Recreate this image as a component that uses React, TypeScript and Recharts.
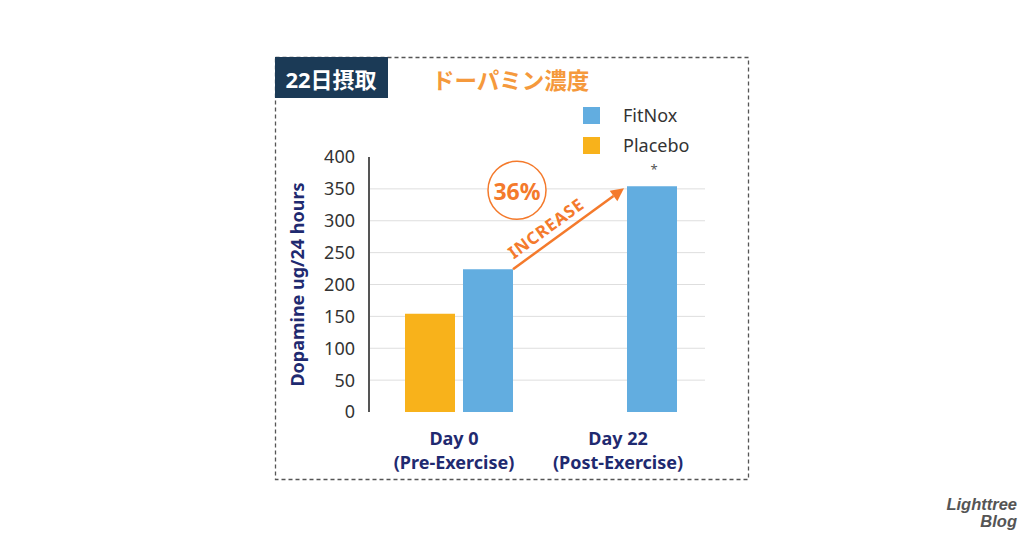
import React from 'react';
import { BarChart, Bar, XAxis, YAxis, CartesianGrid, LabelList, Label } from 'recharts';

const categories = ['Day 0', 'Day 22'];
const subLabels = ['(Pre-Exercise)', '(Post-Exercise)'];
const fitnoxValues = [224, 354];
const placeboValues: (number | null)[] = [154, null];
const yTicks = [0, 50, 100, 150, 200, 250, 300, 350, 400];
const gridValues = [50, 100, 150, 200, 250, 300, 350];
const increaseLabel = '36%';
const increaseText = 'INCREASE';
const seriesNames = { fitnox: 'FitNox', placebo: 'Placebo' };

const data = categories.map((c, i) => ({
  name: c,
  sub: subLabels[i],
  fitnox: fitnoxValues[i],
  placebo: placeboValues[i],
}));

const BLUE = '#62ade0';
const YELLOW = '#f8b21b';
const ORANGE = '#f47a2c';
const NAVY = '#1f2a70';
const FONT = '"Noto Sans", "Noto Sans CJK JP", sans-serif';

const store: { x?: number; y?: number } = {};

function FitnoxAnnot(props: any) {
  const { x, y, width, index } = props;
  if (index === 0) {
    store.x = x + width;
    store.y = y;
    return null;
  }
  if (store.x === undefined || store.y === undefined) return null;
  const sx = store.x;
  const sy = store.y;
  const ex = x - 3;
  const ey = y + 2;
  const dx = ex - sx;
  const dy = ey - sy;
  const len = Math.sqrt(dx * dx + dy * dy);
  const ux = dx / len;
  const uy = dy / len;
  const angle = (Math.atan2(dy, dx) * 180) / Math.PI;
  const head = 13;
  const hx = ex - ux * head;
  const hy = ey - uy * head;
  const nx = -uy;
  const ny = ux;
  const tx = sx + dx * 0.37 + uy * 14;
  const ty = sy + dy * 0.37 - ux * 14;
  const cx = sx + 4;
  const cy = y + 4;
  return (
    <g>
      <line x1={sx} y1={sy} x2={hx} y2={hy} stroke={ORANGE} strokeWidth={2.5} />
      <polygon
        points={`${ex},${ey} ${hx + nx * 6.5},${hy + ny * 6.5} ${hx - nx * 6.5},${hy - ny * 6.5}`}
        fill={ORANGE}
      />
      <text
        x={tx}
        y={ty}
        transform={`rotate(${angle} ${tx} ${ty})`}
        textAnchor="middle"
        dominantBaseline="central"
        fill={ORANGE}
        fontSize={17}
        fontWeight={700}
        fontFamily={FONT}
        letterSpacing={0.8}
      >
        {increaseText}
      </text>
      <circle cx={cx} cy={cy} r={29} fill="#fff" stroke={ORANGE} strokeWidth={1.5} />
      <text
        x={cx}
        y={cy + 1}
        textAnchor="middle"
        dominantBaseline="central"
        fill={ORANGE}
        fontSize={23}
        fontWeight={700}
        fontFamily={FONT}
      >
        {increaseLabel}
      </text>
      <text x={x + width / 2 + 2} y={y - 12} textAnchor="middle" fill="#555" fontSize={13} fontFamily={FONT}>
        *
      </text>
    </g>
  );
}

function XTick(props: any) {
  const { x, y, payload, index } = props;
  return (
    <g>
      <text x={x - 5} y={y + 25} textAnchor="middle" fill={NAVY} fontSize={18} fontWeight={700} fontFamily={FONT}>
        {payload.value}
      </text>
      <text x={x - 5} y={y + 49} textAnchor="middle" fill={NAVY} fontSize={18} fontWeight={700} fontFamily={FONT}>
        {subLabels[index] ?? ''}
      </text>
    </g>
  );
}

function YLabel(props: any) {
  const { viewBox } = props;
  const cx = viewBox.x - 12;
  const cy = viewBox.y + viewBox.height / 2;
  return (
    <text
      x={cx}
      y={cy}
      transform={`rotate(-90 ${cx} ${cy})`}
      textAnchor="middle"
      dominantBaseline="central"
      fill={NAVY}
      fontSize={18}
      fontWeight={700}
      fontFamily={FONT}
    >
      Dopamine ug/24 hours
    </text>
  );
}

function LegendBox() {
  const items = [
    { name: seriesNames.fitnox, color: BLUE },
    { name: seriesNames.placebo, color: YELLOW },
  ];
  return (
    <div style={{ position: 'absolute', left: 583, top: 100, fontFamily: FONT }}>
      {items.map((it) => (
        <div key={it.name} style={{ display: 'flex', alignItems: 'center', height: 30 }}>
          <div style={{ width: 17, height: 17, background: it.color }} />
          <span style={{ marginLeft: 23, fontSize: 18, color: '#333' }}>{it.name}</span>
        </div>
      ))}
    </div>
  );
}

export default function App() {
  return (
    <div style={{ position: 'absolute', left: 0, top: 0, width: 1024, height: 538, background: '#fff', overflow: 'hidden' }}>
      <svg width={1024} height={538} style={{ position: 'absolute', left: 0, top: 0 }}>
        <rect x={275.5} y={57.5} width={473} height={422} fill="none" stroke="#555" strokeWidth={1.3} strokeDasharray="4 3" />
        <rect x={275} y={57} width={113} height={41} fill="#1b3a56" />
        <text x={331} y={79} textAnchor="middle" dominantBaseline="central" fill="#fff" fontSize={22} fontWeight={700} fontFamily={FONT}>
          22日摂取
        </text>
        <text x={432} y={80} dominantBaseline="central" fill="#f5993c" fontSize={22.5} fontWeight={700} fontFamily={FONT}>
          ドーパミン濃度
        </text>
        <text x={1017} y={510} textAnchor="end" fill="#555" fontSize={16.5} fontWeight={700} fontStyle="italic" fontFamily='"Liberation Sans", Arial, sans-serif'>
          Lighttree
        </text>
        <text x={1017} y={527} textAnchor="end" fill="#555" fontSize={16.5} fontWeight={700} fontStyle="italic" fontFamily='"Liberation Sans", Arial, sans-serif'>
          Blog
        </text>
      </svg>
      <div style={{ position: 'absolute', left: 0, top: 0 }}>
        <BarChart
          width={1024}
          height={538}
          data={data}
          margin={{ top: 157, right: 319, bottom: 66, left: 309 }}
          barSize={50}
          barGap={8}
        >
          <CartesianGrid horizontal vertical={false} stroke="#dedede" horizontalValues={gridValues} />
          <XAxis
            dataKey="name"
            axisLine={false}
            tickLine={false}
            height={60}
            padding={{ left: 8, right: 0 }}
            tick={<XTick />}
            interval={0}
          />
          <YAxis
            width={60}
            domain={[0, 400]}
            ticks={yTicks}
            interval={0}
            axisLine={{ stroke: '#555', strokeWidth: 2 }}
            tickLine={false}
            tickSize={6}
            tickMargin={8}
            tick={{ fill: '#333', fontSize: 18, fontFamily: FONT }}
          >
            <Label content={<YLabel />} />
          </YAxis>
          <Bar dataKey="placebo" fill={YELLOW} isAnimationActive={false} />
          <Bar dataKey="fitnox" fill={BLUE} isAnimationActive={false}>
            <LabelList dataKey="fitnox" content={FitnoxAnnot} />
          </Bar>
        </BarChart>
      </div>
      <LegendBox />
    </div>
  );
}
